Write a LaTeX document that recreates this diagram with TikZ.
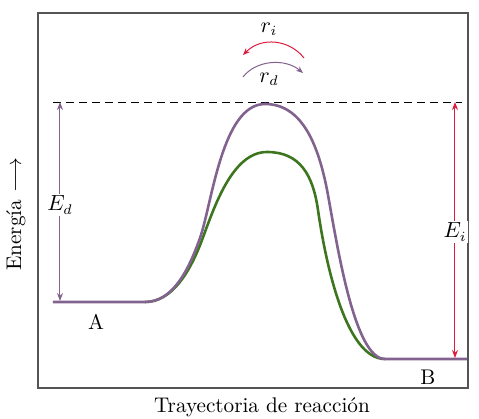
\documentclass[tikz,border=0pt]{standalone}
\usetikzlibrary{arrows.meta}
\definecolor{pur}{RGB}{130,98,142}
\definecolor{grn}{RGB}{62,118,32}
\definecolor{rd}{RGB}{222,28,62}
\definecolor{frm}{RGB}{85,85,85}
\tikzset{
  curve/.style={line width=1.3pt,line join=round},
  dim/.style={line width=0.5pt,{Stealth[length=4pt,width=3pt]}-{Stealth[length=4pt,width=3pt]}},
  lbl/.style={inner sep=1pt,fill=white},
  rarr/.style={line width=0.5pt,-{Stealth[length=3.5pt,width=2.8pt]}},
  every node/.style={font=\fontsize{10.6pt}{12pt}\selectfont}
}
\begin{document}
\begin{tikzpicture}[x=0.5pt,y=-0.5pt]
\useasboundingbox (0,0) rectangle (479,419);
% frame
\draw[frm,line width=1.1pt] (38,13) rectangle (468,388);
% dashed reference
\coordinate (dL) at (53,102);
\coordinate (dR) at (462,102);
\draw[dash pattern=on 4pt off 2.5pt,line width=0.5pt] (dL) -- (dR);
% levels
\coordinate (a0) at (53,302);
\coordinate (a1) at (145,302);
\coordinate (b0) at (385,359);
\coordinate (b1) at (467,359);
\coordinate (ptop) at (265,104);
\coordinate (gtop) at (267,152);
% green curve
\draw[grn,curve] (a1) .. controls (172,302) and (190,272) .. (202,240)
  .. controls (214,208) and (232,152) .. (gtop)
  .. controls (300,152) and (313,175) .. (318,210)
  .. controls (325,259) and (345,359) .. (b0);
% purple curve
\draw[pur,curve] (a0) -- (a1) .. controls (172,302) and (188,272) .. (200,238)
  .. controls (212,204) and (222,104) .. (ptop)
  .. controls (300,104) and (318,140) .. (328,195)
  .. controls (338,250) and (355,359) .. (b0) -- (b1);
% Ed arrow
\coordinate (edt) at (60,102);
\coordinate (edb) at (60,301);
\draw[pur,dim] (edt) -- (edb);
\node[lbl] (Ed) at (60,205) {$E_d$};
% Ei arrow
\coordinate (eit) at (455,102);
\coordinate (eib) at (455,358);
\draw[rd,dim] (eit) -- (eib);
\node[lbl] (Ei) at (455,232) {$E_i$};
% labels
\node (A) at (96,322) {A};
\node (B) at (428,377) {B};
\node (xl) at (262,407) {Trayectoria de reacción};
\node[rotate=90] (yl) at (16,214) {Energía $\longrightarrow$};
% rates
\node (ri) at (269,29) {$r_i$};
\node (rdl) at (269,79) {$r_d$};
\coordinate (ri1) at (304,58);
\coordinate (ri0) at (243,55);
\draw[rd,rarr] (ri1) .. controls (290,40) and (262,36) .. (ri0);
\coordinate (rd0) at (243,77);
\coordinate (rd1) at (303,73);
\draw[pur,rarr] (rd0) .. controls (256,60) and (285,58) .. (rd1);
\end{tikzpicture}
\end{document}
